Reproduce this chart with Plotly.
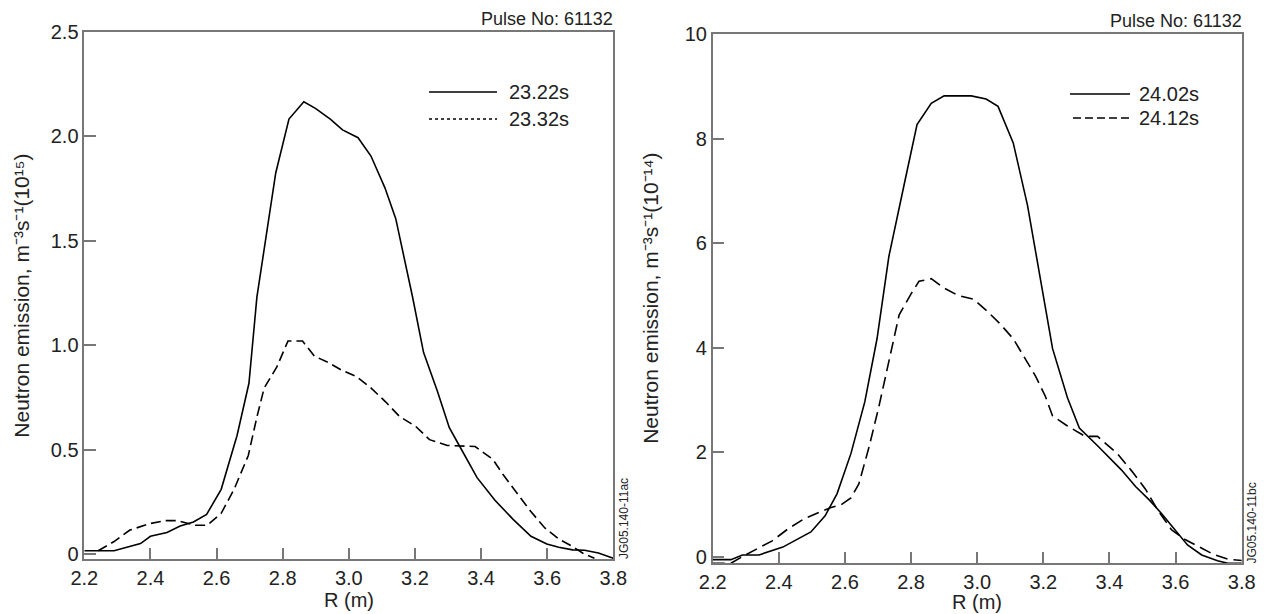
import plotly.graph_objects as go

# ---------------- data ----------------
r_a_solid = [2.20, 2.29, 2.37, 2.40, 2.45, 2.49, 2.53, 2.57, 2.614, 2.662, 2.698, 2.722, 2.779, 2.819,
             2.864, 2.899, 2.944, 2.981, 3.028, 3.067, 3.109, 3.142, 3.193, 3.226, 3.268, 3.304, 3.334,
             3.388, 3.442, 3.497, 3.551, 3.599, 3.635, 3.677, 3.713, 3.755, 3.80]
v_a_solid = [0.016, 0.016, 0.05, 0.085, 0.103, 0.134, 0.154, 0.19, 0.31, 0.568, 0.818, 1.23, 1.825, 2.083,
             2.166, 2.134, 2.083, 2.031, 1.994, 1.906, 1.755, 1.606, 1.23, 0.966, 0.78, 0.605, 0.52,
             0.366, 0.258, 0.166, 0.085, 0.048, 0.033, 0.02, 0.018, 0.005, -0.02]

r_a_dash = [2.242, 2.29, 2.338, 2.398, 2.446, 2.482, 2.536, 2.572, 2.614, 2.653, 2.696, 2.722, 2.744,
            2.782, 2.816, 2.86, 2.896, 2.938, 2.977, 3.022, 3.064, 3.112, 3.154, 3.202, 3.244, 3.298,
            3.382, 3.436, 3.466, 3.502, 3.55, 3.593, 3.635, 3.677, 3.707, 3.743]
v_a_dash = [0.016, 0.06, 0.115, 0.146, 0.16, 0.16, 0.138, 0.138, 0.195, 0.31, 0.472, 0.656, 0.795,
            0.895, 1.02, 1.02, 0.948, 0.917, 0.882, 0.851, 0.80, 0.728, 0.658, 0.612, 0.548, 0.52,
            0.515, 0.453, 0.382, 0.305, 0.205, 0.125, 0.072, 0.036, 0.005, -0.02]

r_b_solid = [2.20, 2.255, 2.29, 2.34, 2.412, 2.497, 2.54, 2.576, 2.618, 2.66, 2.697, 2.733, 2.782,
             2.818, 2.861, 2.90, 2.982, 3.027, 3.063, 3.109, 3.152, 3.20, 3.228, 3.273, 3.309, 3.364,
             3.40, 3.436, 3.479, 3.521, 3.558, 3.60, 3.636, 3.679, 3.727, 3.758, 3.806]
v_b_solid = [-0.06, -0.06, 0.03, 0.03, 0.18, 0.47, 0.78, 1.2, 1.97, 2.96, 4.17, 5.75, 7.21,
             8.27, 8.68, 8.82, 8.82, 8.76, 8.62, 7.92, 6.73, 4.96, 3.98, 3.04, 2.46, 2.12,
             1.9, 1.66, 1.34, 1.08, 0.82, 0.5, 0.22, 0.03, -0.08, -0.13, -0.13]

r_b_dash = [2.20, 2.255, 2.29, 2.34, 2.38, 2.43, 2.479, 2.527, 2.558, 2.588, 2.618, 2.642, 2.673,
            2.703, 2.733, 2.764, 2.80, 2.824, 2.861, 2.897, 2.942, 2.988, 3.03, 3.067, 3.109, 3.145,
            3.176, 3.206, 3.228, 3.273, 3.327, 3.364, 3.424, 3.467, 3.509, 3.545, 3.588, 3.630,
            3.679, 3.715, 3.758, 3.806]
v_b_dash = [-0.13, -0.13, 0.0, 0.17, 0.3, 0.54, 0.73, 0.86, 0.94, 0.99, 1.12, 1.39, 2.1,
            2.88, 3.72, 4.63, 5.03, 5.27, 5.32, 5.15, 5.0, 4.93, 4.7, 4.47, 4.17, 3.79,
            3.46, 3.07, 2.69, 2.5, 2.3, 2.3, 1.97, 1.64, 1.29, 0.9, 0.51, 0.32,
            0.15, 0.04, -0.05, -0.08]

x_ticks = [2.2, 2.4, 2.6, 2.8, 3.0, 3.2, 3.4, 3.6, 3.8]
x_ticktext = ["2.2", "2.4", "2.6", "2.8", "3.0", "3.2", "3.4", "3.6", "3.8"]
ya_ticks = [0, 0.5, 1.0, 1.5, 2.0, 2.5]
ya_ticktext = ["0", "0.5", "1.0", "1.5", "2.0", "2.5"]
yb_ticks = [0, 2, 4, 6, 8, 10]
yb_ticktext = ["0", "2", "4", "6", "8", "10"]

labels_a = ["23.22s", "23.32s"]
labels_b = ["24.02s", "24.12s"]
pulse_text = "Pulse No: 61132"
ytitle_a = "Neutron emission, m⁻³s⁻¹(10¹⁵)"
ytitle_b = "Neutron emission, m⁻³s⁻¹(10⁻¹⁴)"
xtitle = "R (m)"
ids = ["JG05.140-11ac", "JG05.140-11bc"]

# ---------------- layout geometry (pixels) ----------------
W, H = 1267, 614
FONT = "Liberation Sans, Arial, Helvetica, sans-serif"
TXT = "#222222"
AX = "#777777"


def px(x):
    return x / W


def py(y):
    return 1 - y / H


A_L, A_R, A_T, A_B = 84.3, 613.3, 32, 559.3
B_L, B_R, B_T, B_B = 712.7, 1241.7, 34.3, 563.3

fig = go.Figure()
fig.add_trace(go.Scatter(x=r_a_solid, y=v_a_solid, mode="lines", xaxis="x", yaxis="y",
                         line=dict(color="black", width=1.6), showlegend=False))
fig.add_trace(go.Scatter(x=r_a_dash, y=v_a_dash, mode="lines", xaxis="x", yaxis="y",
                         line=dict(color="black", width=1.6, dash="10px,5px"), showlegend=False))
fig.add_trace(go.Scatter(x=r_b_solid, y=v_b_solid, mode="lines", xaxis="x2", yaxis="y2",
                         line=dict(color="black", width=1.6), showlegend=False))
fig.add_trace(go.Scatter(x=r_b_dash, y=v_b_dash, mode="lines", xaxis="x2", yaxis="y2",
                         line=dict(color="black", width=1.6, dash="12px,6px"), showlegend=False))

axis_common = dict(showgrid=False, zeroline=False, showline=True, linecolor=AX, linewidth=1.5,
                   mirror=True, ticks="inside", ticklen=12, tickcolor=AX, tickwidth=1.5,
                   automargin=False, tickfont=dict(family=FONT, size=20, color=TXT))

fig.update_layout(
    width=W, height=H, margin=dict(l=0, r=0, t=0, b=0, autoexpand=False),
    paper_bgcolor="white", plot_bgcolor="white", showlegend=False,
    xaxis=dict(domain=[px(A_L), px(A_R)], range=[2.2, 3.8], anchor="y",
               tickvals=x_ticks, ticktext=x_ticktext, **axis_common),
    yaxis=dict(domain=[py(A_B), py(A_T)], range=[-0.025, 2.5], anchor="x",
               tickvals=ya_ticks, ticktext=ya_ticktext, **axis_common),
    xaxis2=dict(domain=[px(B_L), px(B_R)], range=[2.2, 3.8], anchor="y2",
                tickvals=x_ticks, ticktext=x_ticktext, **axis_common),
    yaxis2=dict(domain=[py(B_B), py(B_T)], range=[-0.13, 10], anchor="x2",
                tickvals=yb_ticks, ticktext=yb_ticktext, **axis_common),
)

# axis titles
for cx, cy, t, ang, fs in [((A_L + A_R) / 2, 600, xtitle, 0, 20), ((B_L + B_R) / 2, 602, xtitle, 0, 20),
                           (22, (A_T + A_B) / 2, ytitle_a, -90, 21),
                           (651, (B_T + B_B) / 2, ytitle_b, -90, 21)]:
    fig.add_annotation(xref="paper", yref="paper", x=px(cx), y=py(cy), text=t, showarrow=False,
                       xanchor="center", yanchor="middle", textangle=ang,
                       font=dict(family=FONT, size=fs, color=TXT))

# legend samples (drawn manually to match the long sample lines)
leg = [
    # (x0, x1, y, dash, label, text_x)
    (429, 497, 92, "solid", labels_a[0], 507),
    (429, 497, 119, "3px,3px", labels_a[1], 507),
    (1070, 1130, 94, "solid", labels_b[0], 1137),
    (1073, 1130, 118, "8px,4px", labels_b[1], 1137),
]
for x0, x1, y, d, lab, tx in leg:
    fig.add_shape(type="line", xref="paper", yref="paper", x0=px(x0), x1=px(x1), y0=py(y), y1=py(y),
                  line=dict(color="black", width=1.6, dash=d))
    fig.add_annotation(xref="paper", yref="paper", x=px(tx), y=py(y), text=lab, showarrow=False,
                       xanchor="left", yanchor="middle", font=dict(family=FONT, size=20, color=TXT))

for right, top in [(A_R, A_T), (B_R, B_T)]:
    fig.add_annotation(xref="paper", yref="paper", x=px(right + 2), y=py(top - 1), text=pulse_text,
                       showarrow=False, xanchor="right", yanchor="bottom",
                       font=dict(family=FONT, size=18, color=TXT))

for right, bottom, t in [(A_R, A_B, ids[0]), (B_R, B_B, ids[1])]:
    fig.add_annotation(xref="paper", yref="paper", x=px(right + 1), y=py(bottom + 2), text=t,
                       showarrow=False, xanchor="left", yanchor="bottom", textangle=-90,
                       font=dict(family=FONT, size=12, color=TXT))

fig.write_html("out.html")
